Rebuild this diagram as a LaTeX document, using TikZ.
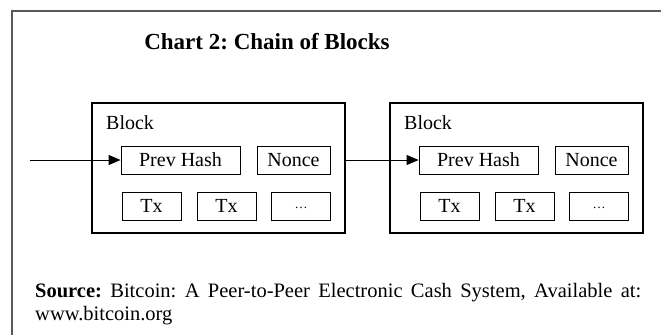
\documentclass[tikz,border=0pt]{standalone}
\usepackage{fontspec}
\setmainfont{Liberation Serif}
\usetikzlibrary{arrows.meta}
\frenchspacing
\tikzset{
  frame/.style={draw=black!65, line width=1.6pt},
  blockbox/.style={draw=black, line width=1.6pt, inner sep=0pt},
  field/.style={draw=black, line width=0.8pt, inner sep=0pt, minimum height=28pt, font=\fontsize{20}{24}\selectfont},
  lbl/.style={inner sep=0pt, font=\fontsize{20}{24}\selectfont},
  link/.style={line width=0.9pt, -{Triangle[length=12pt,width=10pt]}},
  srcline/.style={anchor=west, inner sep=0pt, font=\fontsize{20.5}{24}\selectfont},
}
\begin{document}
\begin{tikzpicture}[x=1pt,y=-1pt]
\useasboundingbox (0,0) rectangle (661,335);
\fill[white] (0,0) rectangle (661,335);
\draw[frame] (12,335) -- (12,11) -- (661,11);
\node[font=\bfseries\fontsize{23}{26}\selectfont, inner sep=0pt] (title) at (267,42) {Chart 2: Chain of Blocks};
% block 1
\node[blockbox, minimum width=253pt, minimum height=130pt] (b1) at (218.5,168) {};
\node[lbl, anchor=west] (l1) at (106,123) {Block};
\node[field, minimum width=119pt] (ph1) at (180.5,160) {Prev Hash};
\node[field, minimum width=73pt] (n1) at (293.5,160) {Nonce};
\node[field, minimum width=59pt] (t1a) at (151.5,206) {Tx};
\node[field, minimum width=59pt] (t1b) at (226.5,206) {Tx};
\node[field, minimum width=59pt] (t1c) at (301,206) {\raisebox{-5pt}{\fontsize{13}{15}\selectfont\dots}};
% block 2
\node[blockbox, minimum width=253pt, minimum height=130pt] (b2) at (516.5,168) {};
\node[lbl, anchor=west] (l2) at (404,123) {Block};
\node[field, minimum width=119pt] (ph2) at (478.5,160) {Prev Hash};
\node[field, minimum width=73pt] (n2) at (591.5,160) {Nonce};
\node[field, minimum width=59pt] (t2a) at (449.5,206) {Tx};
\node[field, minimum width=59pt] (t2b) at (524.5,206) {Tx};
\node[field, minimum width=59pt] (t2c) at (599,206) {\raisebox{-5pt}{\fontsize{13}{15}\selectfont\dots}};
% connectors
\coordinate (in) at (30,160);
\draw[link] (in) -- (ph1.west);
\draw[link] (b1.east |- ph2.west) -- (ph2.west);
% source
\node[srcline] (src1) at (35,293) {\makebox[606pt][s]{\textbf{Source:} Bitcoin: A Peer-to-Peer Electronic Cash System, Available at:}};
\node[srcline] (src2) at (35,316) {www.bitcoin.org};
\end{tikzpicture}
\end{document}
